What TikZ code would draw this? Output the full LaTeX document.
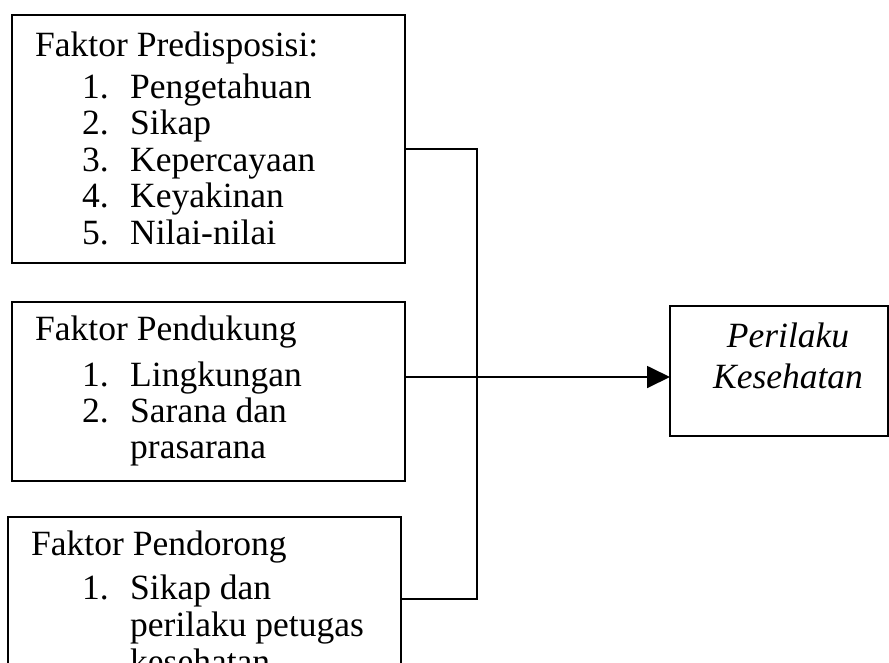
\documentclass[tikz,border=0pt]{standalone}
\usepackage{fontspec}
\setmainfont{Liberation Serif}
\usepackage{tikz}
\usetikzlibrary{arrows.meta}
\newcommand*{\ItemList}[4]{% #1 = name, #2 = list of num/text, #3 = first baseline, #4 = line step
\foreach \n/\t [count=\i] in {#2} {
\node [item] (#1-n\i) at (82,#3+\i*#4-#4) {\n};
\node [item] (#1-t\i) at (130,#3+\i*#4-#4) {\t};
}%
}

\begin{document}
\begin{tikzpicture}[x=1pt,y=-1pt,
    box/.style={draw, line width=1.8pt, anchor=north west, inner sep=0pt, outer sep=0pt},
    item/.style={anchor=base west, inner sep=0pt, font=\fontsize{35.5}{37}\selectfont},
    line/.style={line width=1.8pt}]

            \useasboundingbox (0,0) rectangle (889,662);
            \clip (0,0) rectangle (889,662);

            % boxes
            \node [box, minimum width=393pt, minimum height=248pt] (pred) at (12,15) {};
            \node [box, minimum width=393pt, minimum height=179pt] (dukung) at (12,302) {};
            \node [box, minimum width=393pt, minimum height=190pt] (dorong) at (8,517) {};
            \node [box, minimum width=218pt, minimum height=130pt] (hasil) at (670,306) {};

            % texts
            \node [item] (pred-title) at (35,56) {Faktor Predisposisi:};
            \ItemList{pred}{1./Pengetahuan, 2./Sikap, 3./Kepercayaan, 4./Keyakinan, 5./Nilai-nilai}{98}{36.5}
            \node [item] (dukung-title) at (35,340) {Faktor Pendukung};
            \ItemList{dukung}{1./Lingkungan, 2./Sarana dan, /prasarana}{386}{36}
            \node [item] (dorong-title) at (31,555) {Faktor Pendorong};
            \ItemList{dorong}{1./Sikap dan, /perilaku petugas, /kesehatan}{599}{37}
            \node [item, anchor=base, font=\fontsize{35.5}{37}\selectfont\itshape] (hasil-a) at (788,347) {Perilaku};
            \node [item, anchor=base, font=\fontsize{35.5}{37}\selectfont\itshape] (hasil-b) at (788,388) {Kesehatan};

            % connectors
            \coordinate (bus) at (477,0);
            \draw [line] (pred.east |- 0,149) -| (bus |- 0,599) -- (dorong.east |- 0,599);
            \draw [line, -{Triangle[length=23pt,width=22pt]}] (dukung.east |- 0,377) -- (hasil.west |- 0,377);
        \end{tikzpicture}
\end{document}
